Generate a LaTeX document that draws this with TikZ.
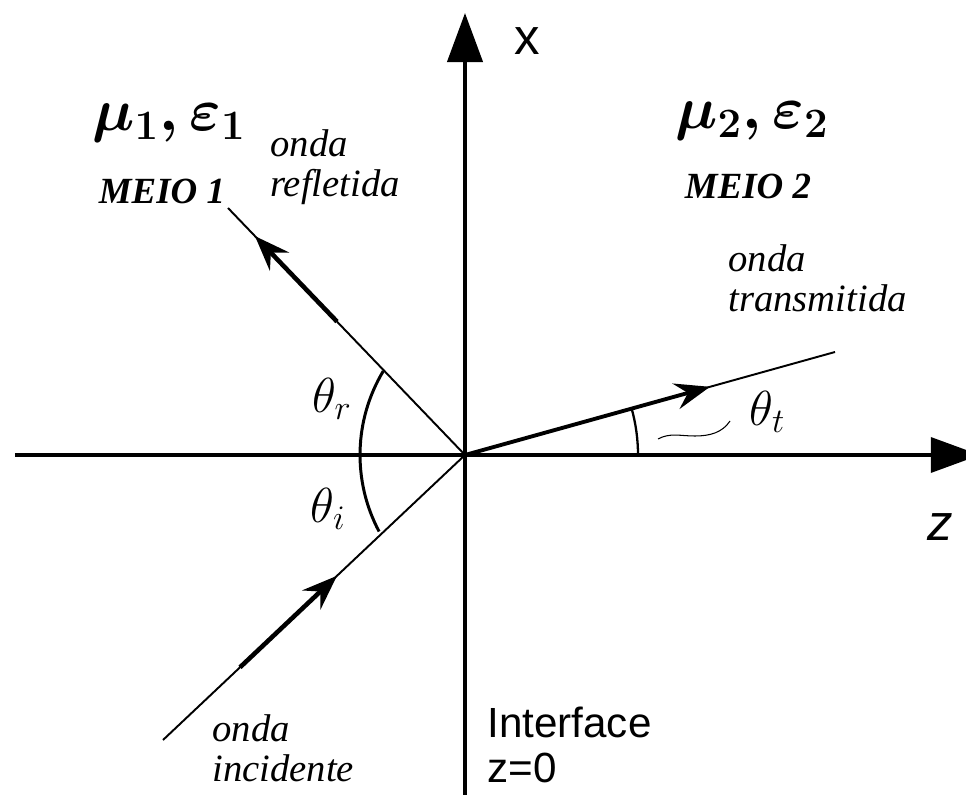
\RequirePackage{fix-cm}
\documentclass[tikz,border=0pt]{standalone}
\usepackage{amsmath}
\usepackage{fontspec}
\setmainfont{Liberation Serif}
\setsansfont{Liberation Sans}
\usetikzlibrary{arrows.meta,calc}

\tikzset{
	axis/.style={-{Triangle[length=28pt,width=20pt]}},
	ray/.style={line width=1.1pt},
	wave/.style={line width=2.6pt,-{Stealth[length=20pt,width=15pt,inset=7pt]}},
	lbl/.style={font=\fontsize{22}{23}\selectfont\itshape,align=left,inner sep=0pt,anchor=west},
	meio/.style={font=\fontsize{21}{23}\selectfont\bfseries\itshape,inner sep=0pt},
	med/.style={font=\fontsize{34}{38}\selectfont\boldmath,inner sep=0pt},
	ang/.style={font=\fontsize{28}{30}\selectfont,inner sep=0pt},
}

\begin{document}
\begin{tikzpicture}
	\useasboundingbox (-9.3,-6.78) rectangle (10.02,9.1);

	% eixos
	\coordinate (O) at (0,0);
	\coordinate (xtop) at (0,8.84);
	\coordinate (xbot) at (0,-6.8);
	\coordinate (zleft) at (-9.0,0);
	\coordinate (zright) at (10.3,0);
	\draw[axis, line width=2.4pt] (xbot) -- (xtop);
	\draw[axis, line width=1.8pt] (zleft) -- (zright);
	\node[font=\fontsize{29}{30}\selectfont\sffamily, inner sep=0pt] (xlab) at (1.24,8.28) {x};
	\node[font=\fontsize{29}{30}\selectfont\sffamily\itshape, inner sep=0pt] (zlab) at (9.5,-1.44) {z};

	% raios
	\coordinate (refl) at (-4.74,4.94);
	\coordinate (inc) at (-6.04,-5.7);
	\coordinate (trans) at (7.4,2.06);
	\draw[ray] (O) -- (refl);
	\draw[ray] (inc) -- (O);
	\draw[ray] (O) -- (trans);
	\draw[wave] ($(O)!0.54!(refl)$) -- ($(O)!0.886!(refl)$);
	\draw[wave] ($(inc)!0.255!(O)$) -- ($(inc)!0.576!(O)$);
	\draw[wave, line width=2.2pt] (O) -- ($(O)!0.662!(trans)$);

	% angulos
	\draw[line width=1.7pt] (-1.634,1.679) arc[start angle=149, end angle=208, radius=3.26];
	\draw[line width=1.3pt] (3.46,0) arc[start angle=0, end angle=15.6, radius=3.46];
	\draw[line width=0.6pt] (3.86,0.32) .. controls (4.1,0.45) and (4.3,0.38) .. (4.6,0.38)
		.. controls (4.9,0.38) and (5.15,0.45) .. (5.3,0.68);
	\node[ang] (thr) at (-2.66,1.12) {$\theta_r$};
	\node[ang] (thi) at (-2.74,-1.08) {$\theta_i$};
	\node[ang] (tht) at (6.05,0.86) {$\theta_t$};

	% meios
	\node[med] (mu1) at (-5.92,6.64) {$\mu_1, \varepsilon_1$};
	\node[med] (mu2) at (5.74,6.68) {$\mu_2,\varepsilon_2$};
	\node[meio] (meio1) at (-6.06,5.28) {MEIO 1};
	\node[meio] (meio2) at (5.66,5.38) {MEIO 2};

	\node[lbl] (onR) at (-3.9,5.76) {onda\\refletida};
	\node[lbl] (onT) at (5.26,3.54) {onda\\transmitida};
	\node[lbl] (onI) at (-5.06,-5.86) {onda\\incidente};
	\node[font=\fontsize{24}{26}\selectfont\sffamily, align=left, inner sep=0pt, anchor=west] (intf) at (0.44,-5.8) {Interface\\z=0};
\end{tikzpicture}
\end{document}
